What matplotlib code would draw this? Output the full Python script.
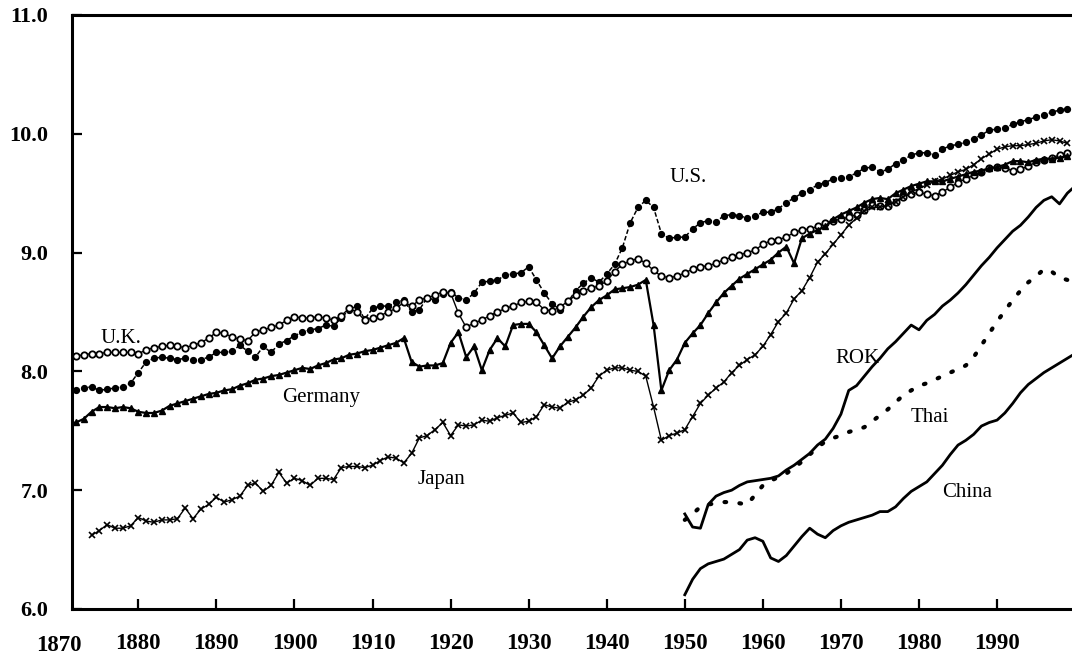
import matplotlib
matplotlib.use("Agg")
import matplotlib.pyplot as plt
from matplotlib.transforms import blended_transform_factory

# ---------------- data (log GDP per capita) ----------------
years_dev = list(range(1871, 2000))
us = [7.83, 7.84, 7.86, 7.87, 7.84, 7.85, 7.86, 7.87, 7.90, 7.99,
      8.08, 8.11, 8.12, 8.11, 8.10, 8.11, 8.10, 8.10, 8.12, 8.16,
      8.16, 8.17, 8.22, 8.17, 8.12, 8.21, 8.16, 8.23, 8.26, 8.30,
      8.33, 8.35, 8.36, 8.39, 8.38, 8.45, 8.52, 8.55, 8.44, 8.53,
      8.55, 8.55, 8.58, 8.60, 8.50, 8.52, 8.62, 8.60, 8.65, 8.67,
      8.62, 8.60, 8.66, 8.75, 8.76, 8.77, 8.81, 8.82, 8.83, 8.88,
      8.77, 8.66, 8.57, 8.52, 8.58, 8.68, 8.74, 8.79, 8.75, 8.82,
      8.90, 9.04, 9.25, 9.38, 9.44, 9.38, 9.16, 9.12, 9.13, 9.13,
      9.20, 9.25, 9.27, 9.26, 9.31, 9.32, 9.31, 9.29, 9.31, 9.34,
      9.34, 9.37, 9.42, 9.46, 9.50, 9.53, 9.57, 9.59, 9.62, 9.63,
      9.64, 9.67, 9.71, 9.72, 9.68, 9.70, 9.75, 9.78, 9.82, 9.84,
      9.84, 9.82, 9.87, 9.90, 9.91, 9.93, 9.96, 9.99, 10.03, 10.04,
      10.05, 10.08, 10.10, 10.12, 10.14, 10.16, 10.18, 10.20, 10.21]
uk = [8.12, 8.13, 8.14, 8.15, 8.15, 8.16, 8.16, 8.16, 8.16, 8.15,
      8.18, 8.20, 8.21, 8.22, 8.21, 8.20, 8.22, 8.24, 8.28, 8.33,
      8.32, 8.29, 8.27, 8.26, 8.33, 8.35, 8.37, 8.39, 8.43, 8.46,
      8.45, 8.45, 8.46, 8.45, 8.43, 8.47, 8.53, 8.50, 8.43, 8.45,
      8.47, 8.50, 8.53, 8.58, 8.55, 8.60, 8.62, 8.64, 8.67, 8.66,
      8.49, 8.37, 8.41, 8.43, 8.47, 8.50, 8.53, 8.55, 8.58, 8.59,
      8.58, 8.52, 8.51, 8.54, 8.59, 8.64, 8.68, 8.70, 8.72, 8.76,
      8.84, 8.90, 8.93, 8.95, 8.91, 8.85, 8.80, 8.79, 8.80, 8.83,
      8.86, 8.88, 8.89, 8.91, 8.94, 8.96, 8.98, 9.00, 9.02, 9.07,
      9.10, 9.11, 9.13, 9.17, 9.19, 9.20, 9.22, 9.25, 9.27, 9.28,
      9.30, 9.32, 9.36, 9.40, 9.39, 9.39, 9.43, 9.47, 9.49, 9.51,
      9.49, 9.48, 9.51, 9.55, 9.59, 9.62, 9.65, 9.68, 9.71, 9.72,
      9.71, 9.69, 9.70, 9.73, 9.76, 9.78, 9.80, 9.82, 9.84]
germany = [7.56, 7.57, 7.60, 7.66, 7.70, 7.70, 7.69, 7.70, 7.69, 7.66,
           7.65, 7.65, 7.67, 7.71, 7.73, 7.75, 7.77, 7.79, 7.81, 7.82,
           7.84, 7.85, 7.88, 7.90, 7.93, 7.94, 7.96, 7.97, 7.99, 8.01,
           8.03, 8.02, 8.05, 8.07, 8.10, 8.11, 8.14, 8.15, 8.17, 8.18,
           8.20, 8.22, 8.24, 8.28, 8.08, 8.04, 8.05, 8.05, 8.07, 8.24,
           8.33, 8.12, 8.21, 8.01, 8.18, 8.28, 8.21, 8.39, 8.40, 8.40,
           8.33, 8.22, 8.11, 8.21, 8.29, 8.37, 8.46, 8.54, 8.60, 8.64,
           8.69, 8.70, 8.71, 8.73, 8.77, 8.39, 7.84, 8.01, 8.10, 8.24,
           8.32, 8.39, 8.49, 8.58, 8.66, 8.72, 8.78, 8.82, 8.86, 8.90,
           8.94, 9.00, 9.05, 8.91, 9.12, 9.16, 9.19, 9.22, 9.28, 9.32,
           9.35, 9.38, 9.42, 9.45, 9.46, 9.45, 9.50, 9.53, 9.56, 9.58,
           9.60, 9.60, 9.60, 9.62, 9.64, 9.66, 9.68, 9.69, 9.71, 9.72,
           9.74, 9.77, 9.77, 9.76, 9.78, 9.79, 9.79, 9.80, 9.81]

years_japan = list(range(1874, 2000))
japan = [6.62, 6.66, 6.71, 6.68, 6.68, 6.70, 6.77,
         6.74, 6.73, 6.75, 6.75, 6.76, 6.85, 6.76, 6.84, 6.88, 6.94,
         6.90, 6.92, 6.95, 7.04, 7.06, 6.99, 7.04, 7.15, 7.06, 7.10,
         7.08, 7.04, 7.10, 7.10, 7.09, 7.19, 7.20, 7.20, 7.19, 7.21,
         7.25, 7.28, 7.27, 7.23, 7.31, 7.44, 7.46, 7.51, 7.57, 7.46,
         7.55, 7.54, 7.55, 7.59, 7.58, 7.61, 7.63, 7.65, 7.57, 7.58,
         7.62, 7.72, 7.70, 7.69, 7.74, 7.76, 7.80, 7.86, 7.96, 8.01,
         8.03, 8.03, 8.01, 8.00, 7.96, 7.70, 7.42, 7.46, 7.48, 7.51,
         7.62, 7.73, 7.80, 7.86, 7.91, 7.99, 8.05, 8.10, 8.14, 8.21,
         8.31, 8.42, 8.49, 8.61, 8.68, 8.79, 8.92, 8.99, 9.07, 9.15,
         9.23, 9.29, 9.35, 9.38, 9.38, 9.40, 9.43, 9.47, 9.51, 9.54,
         9.57, 9.60, 9.62, 9.65, 9.68, 9.70, 9.74, 9.79, 9.83, 9.87,
         9.89, 9.90, 9.90, 9.91, 9.92, 9.94, 9.95, 9.94, 9.92]

years_asia = list(range(1950, 2001))
rok = [6.80, 6.69, 6.68, 6.88, 6.95, 6.98, 7.00, 7.04, 7.07, 7.08,
       7.09, 7.10, 7.12, 7.17, 7.21, 7.26, 7.31, 7.38, 7.43, 7.52,
       7.64, 7.84, 7.88, 7.96, 8.04, 8.11, 8.19, 8.25, 8.32, 8.39,
       8.35, 8.43, 8.48, 8.55, 8.60, 8.66, 8.73, 8.81, 8.89, 8.96,
       9.04, 9.11, 9.18, 9.23, 9.30, 9.38, 9.44, 9.47, 9.41, 9.50,
       9.56]
thai = [6.75, 6.80, 6.86, 6.88, 6.89, 6.90, 6.90, 6.89, 6.88, 6.96,
        7.04, 7.08, 7.11, 7.14, 7.19, 7.24, 7.30, 7.36, 7.41, 7.44,
        7.46, 7.49, 7.51, 7.53, 7.58, 7.63, 7.68, 7.74, 7.80, 7.84,
        7.88, 7.90, 7.93, 7.96, 7.99, 8.02, 8.05, 8.12, 8.22, 8.32,
        8.42, 8.51, 8.60, 8.68, 8.75, 8.80, 8.86, 8.84, 8.79, 8.77,
        8.77]
china = [6.12, 6.25, 6.34, 6.38, 6.40, 6.42, 6.46, 6.50, 6.58, 6.60,
         6.57, 6.43, 6.40, 6.45, 6.53, 6.61, 6.68, 6.63, 6.60, 6.66,
         6.70, 6.73, 6.75, 6.77, 6.79, 6.82, 6.82, 6.86, 6.93, 6.99,
         7.03, 7.07, 7.14, 7.21, 7.30, 7.38, 7.42, 7.47, 7.54, 7.57,
         7.59, 7.65, 7.73, 7.82, 7.89, 7.94, 7.99, 8.03, 8.07, 8.11,
         8.15]

x_ticks = [1880, 1890, 1900, 1910, 1920, 1930, 1940, 1950, 1960, 1970, 1980, 1990]
y_ticks = [6.0, 7.0, 8.0, 9.0, 10.0, 11.0]

labels = ["U.S.", "U.K.", "Germany", "Japan", "ROK", "Thai", "China"]
label_pos = [(1950.4, 9.63), (1877.8, 8.28), (1903.4, 7.78), (1918.8, 7.09),
             (1972.1, 8.11), (1981.4, 7.61), (1986.2, 6.98)]

# ---------------- figure ----------------
serif = ["Liberation Serif", "DejaVu Serif"]
fig = plt.figure(figsize=(10.72, 6.61), dpi=100)
ax = fig.add_axes([72 / 1072, 52 / 661, 1000 / 1072, 594 / 661])

ax.plot(years_dev, us, color="black", lw=1.1, ls=(0, (3, 1.5)), marker="o", ms=4.2,
        mfc="black", mec="black")
ax.plot(years_dev, uk, color="black", lw=1.0, marker="o", ms=4.6, mfc="white",
        mec="black", mew=1.3)
ax.plot(years_dev, germany, color="black", lw=1.6, marker="^", ms=5.0,
        mfc="black", mec="black")
ax.plot(years_japan, japan, color="black", lw=1.0, marker="x", ms=5.0, mew=1.2)
ax.plot(years_asia, rok, color="black", lw=2.0)
ax.plot(years_asia, china, color="black", lw=2.0)
ax.plot(years_asia, thai, color="black", lw=3.0, ls=(0, (0.4, 3.2)),
        dash_capstyle="round")

for txt, (xx, yy) in zip(labels, label_pos):
    ax.text(xx, yy, txt, ha="center", va="center", fontsize=15, family=serif)

ax.set_xlim(1871.5, 1999.6)
ax.set_ylim(6.0, 11.0)
ax.set_xticks(x_ticks)
ax.set_xticklabels([str(v) for v in x_ticks])
ax.set_yticks(y_ticks)
ax.set_yticklabels([f"{v:.1f}" for v in y_ticks])

ax.tick_params(axis="x", direction="in", length=7, width=1.6, pad=17,
               labelsize=16.5)
ax.tick_params(axis="y", direction="in", length=7, width=1.6, pad=17,
               labelsize=16)
for lab in ax.get_xticklabels() + ax.get_yticklabels():
    lab.set_family(serif)
    lab.set_fontweight("bold")

# 1870 label sits left of the plotted range
ax.annotate("1870", xy=(1870, 0), xycoords=blended_transform_factory(ax.transData, ax.transAxes),
            xytext=(-1, -19), textcoords="offset points", ha="center", va="top",
            fontsize=16.5, fontweight="bold", family=serif, annotation_clip=False)

for side in ["left", "bottom", "top"]:
    ax.spines[side].set_linewidth(2.2)
ax.spines["right"].set_visible(False)

fig.savefig("out.png", dpi=100)
